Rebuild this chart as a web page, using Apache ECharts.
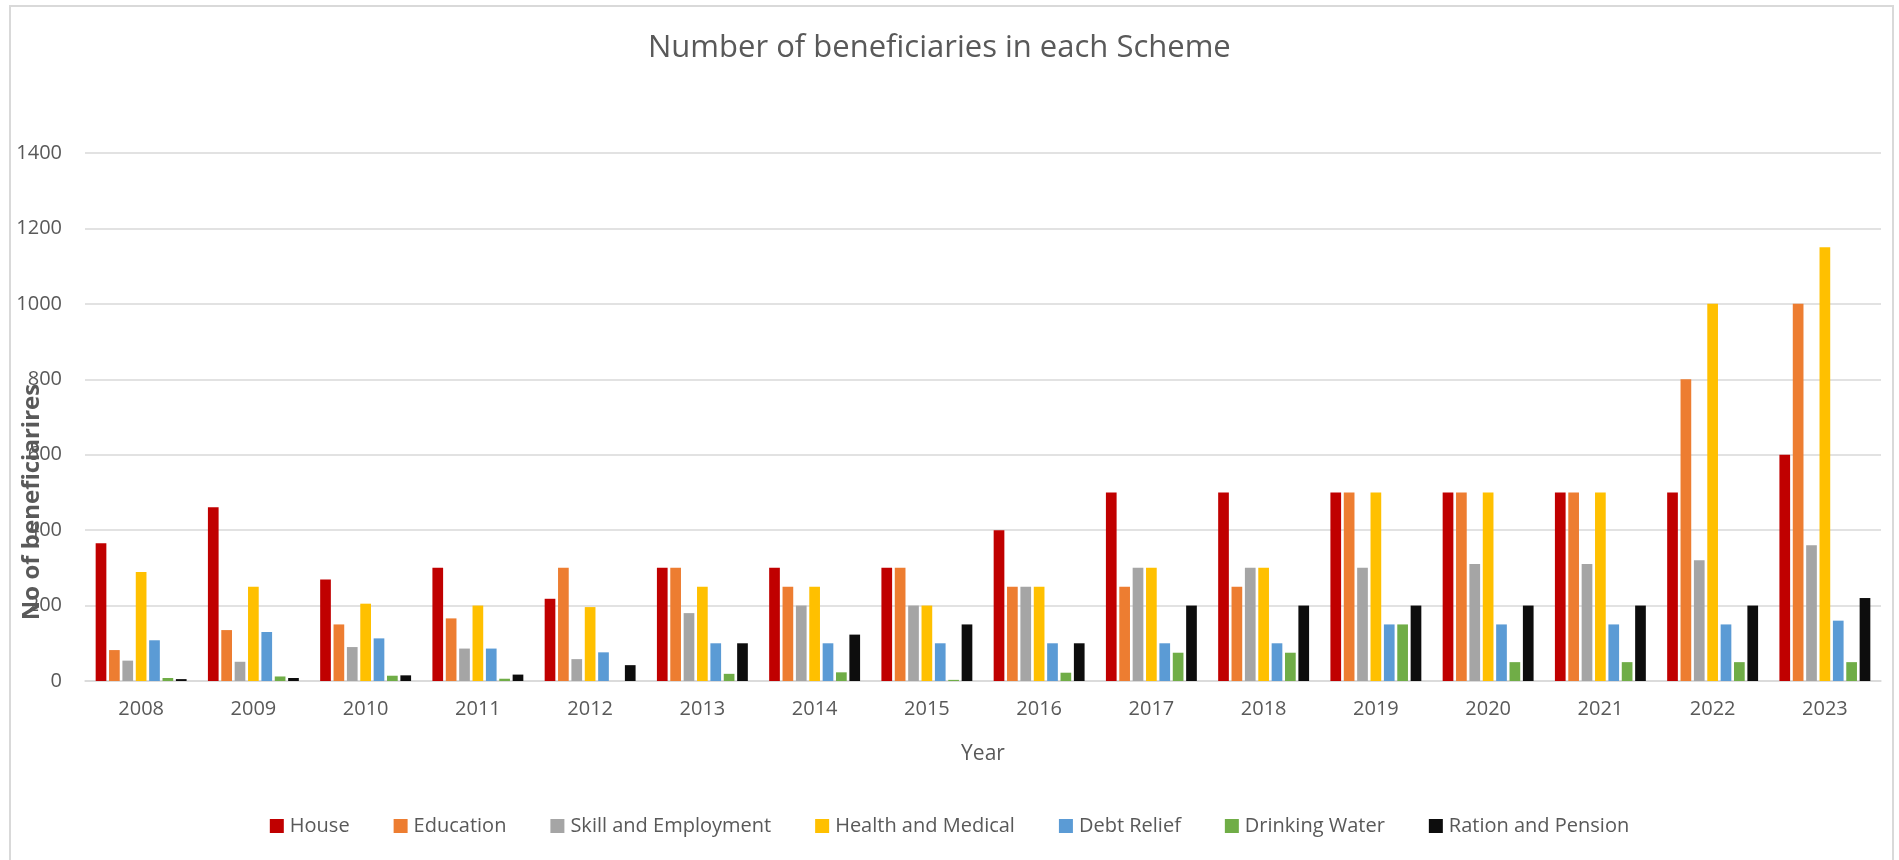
<!DOCTYPE html>
<html>
<head>
<meta charset="utf-8">
<script src="https://cdn.jsdelivr.net/npm/echarts@6/dist/echarts.min.js"></script>
<style>
  html, body { margin: 0; padding: 0; background: #ffffff; }
  #chart { width: 1899px; height: 860px; }
</style>
</head>
<body>
<div id="chart"></div>
<script>
// Beneficiaries per scheme, by year
const years = ['2008','2009','2010','2011','2012','2013','2014','2015','2016','2017','2018','2019','2020','2021','2022','2023'];
const house      = [365, 461, 269, 300, 218, 300, 300, 300, 400, 500, 500, 500, 500, 500, 500, 600];
const education  = [82, 135, 150, 166, 300, 300, 250, 300, 250, 250, 250, 500, 500, 500, 800, 1000];
const skill      = [54, 51, 90, 86, 58, 180, 200, 200, 250, 300, 300, 300, 310, 310, 320, 360];
const health     = [289, 250, 205, 200, 196, 250, 250, 200, 250, 300, 300, 500, 500, 500, 1000, 1150];
const debt       = [108, 130, 113, 86, 76, 100, 100, 100, 100, 100, 100, 150, 150, 150, 150, 160];
const water      = [8, 12, 14, 6, 0, 19, 23, 3, 22, 75, 75, 150, 50, 50, 50, 50];
const ration     = [5, 8, 15, 17, 42, 100, 123, 150, 100, 200, 200, 200, 200, 200, 200, 220];

const seriesNames  = ['House', 'Education', 'Skill and Employment', 'Health and Medical', 'Debt Relief', 'Drinking Water', 'Ration and Pension'];
const seriesData   = [house, education, skill, health, debt, water, ration];
const seriesColors = ['#C00000', '#ED7D31', '#A5A5A5', '#FFC000', '#5B9BD5', '#70AD47', '#0D0D0D'];

const FONT = '"Open Sans", "Noto Sans", sans-serif';
const TEXT = '#595959';

const chart = echarts.init(document.getElementById('chart'), null, { renderer: 'canvas' });

chart.setOption({
  animation: false,
  backgroundColor: '#ffffff',
  color: seriesColors,
  title: {
    text: 'Number of beneficiaries in each Scheme',
    left: 648,
    top: 33,
    padding: 0,
    textStyle: { fontFamily: FONT, fontSize: 31, fontWeight: 'normal', color: TEXT }
  },
  legend: {
    data: seriesNames,
    left: 'center',
    top: 816,
    padding: 0,
    itemWidth: 14,
    itemHeight: 14,
    itemGap: 44,
    icon: 'rect',
    textStyle: { fontFamily: FONT, fontSize: 20, color: TEXT, padding: [0, 0, 0, 1] }
  },
  grid: { left: 85, right: 18, top: 153, bottom: 179, containLabel: false },
  xAxis: {
    type: 'category',
    data: years,
    name: 'Year',
    nameLocation: 'middle',
    nameGap: 63,
    nameTextStyle: { fontFamily: FONT, fontSize: 21, color: TEXT },
    axisLine: { lineStyle: { color: '#D9D9D9', width: 1.5 } },
    axisTick: { show: false },
    axisLabel: { fontFamily: FONT, fontSize: 20, color: TEXT, margin: 18 }
  },
  yAxis: {
    type: 'value',
    min: 0,
    max: 1400,
    interval: 200,
    axisLine: { show: false },
    axisTick: { show: false },
    splitLine: { lineStyle: { color: '#D9D9D9', width: 1.5 } },
    axisLabel: {
      fontFamily: FONT, fontSize: 20, color: TEXT, margin: 23,
      formatter: (v) => String(v)
    }
  },
  graphic: [
    {
      type: 'rect',
      shape: { x: 10, y: 6, width: 1883, height: 870 },
      style: { fill: null, stroke: '#D9D9D9', lineWidth: 2 },
      silent: true
    },
    {
      type: 'text',
      x: 32,
      y: 502,
      rotation: Math.PI / 2,
      style: {
        text: 'No of beneficiarires',
        fontFamily: FONT,
        fontSize: 24,
        fontWeight: 'bold',
        fill: TEXT,
        align: 'center',
        verticalAlign: 'middle'
      },
      z: 10
    }
  ],
  series: seriesNames.map((name, i) => ({
    name: name,
    type: 'bar',
    data: seriesData[i],
    barGap: '25%',
    barCategoryGap: '19%',
    itemStyle: { color: seriesColors[i] }
  }))
});
</script>
</body>
</html>
